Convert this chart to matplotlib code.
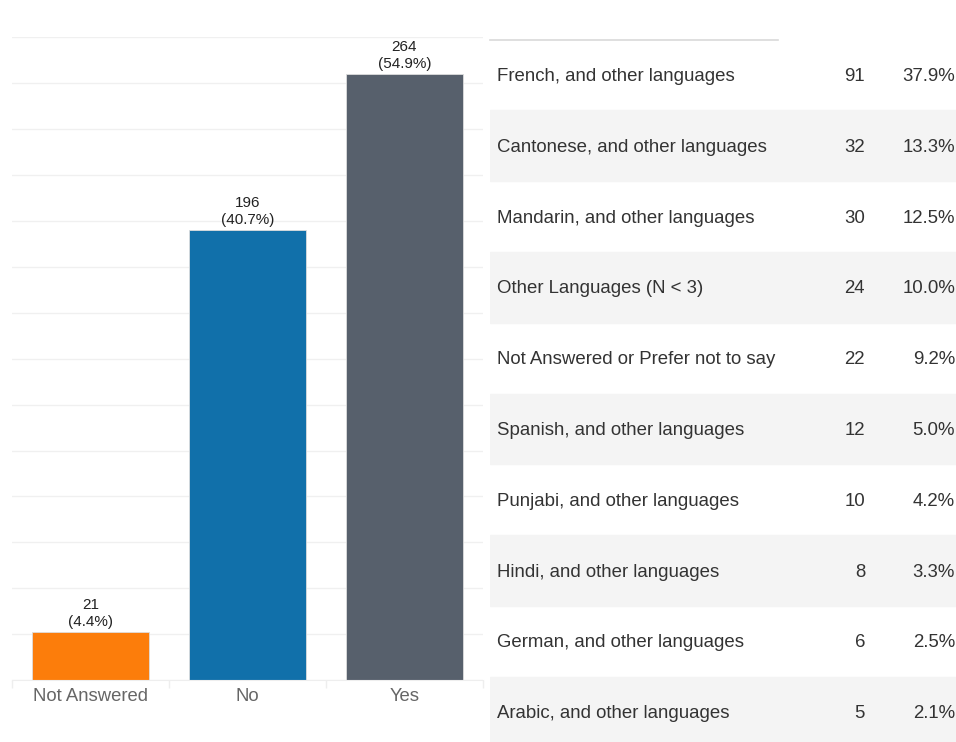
import matplotlib.pyplot as plt
from matplotlib.ticker import MultipleLocator

plt.rcParams['font.family'] = ['Liberation Sans', 'DejaVu Sans']

# bar chart data
answers = ["Not Answered", "No", "Yes"]
answer_counts = [21, 196, 264]
answer_pcts = [4.4, 40.7, 54.9]
bar_colors = ["#fc7d0b", "#1170aa", "#57606c"]

# language table data
languages = ["French, and other languages", "Cantonese, and other languages",
             "Mandarin, and other languages", "Other Languages (N < 3)",
             "Not Answered or Prefer not to say", "Spanish, and other languages",
             "Punjabi, and other languages", "Hindi, and other languages",
             "German, and other languages", "Arabic, and other languages"]
lang_counts = [91, 32, 30, 24, 22, 12, 10, 8, 6, 5]
lang_pcts = [37.9, 13.3, 12.5, 10.0, 9.2, 5.0, 4.2, 3.3, 2.5, 2.1]

W, H = 956, 742
fig = plt.figure(figsize=(W / 100, H / 100), dpi=100)

# --- bar chart ---
ax = fig.add_axes([12 / W, (H - 680) / H, 471 / W, (680 - 37.4) / H])
x = range(len(answers))
ax.bar(x, answer_counts, width=0.75, color=bar_colors, zorder=2,
       edgecolor="#dddddd", linewidth=0.6)
for i, (c, p) in enumerate(zip(answer_counts, answer_pcts)):
    ax.annotate("%d\n(%.1f%%)" % (c, p), xy=(i, c), xytext=(0, 2),
                textcoords="offset points", ha="center", va="bottom",
                fontsize=11, color="#222222", linespacing=1.3)
ax.set_xlim(-0.5, 2.5)
ax.set_ylim(0, 280)
ax.yaxis.set_major_locator(MultipleLocator(20))
ax.grid(axis="y", color="#f0f0f0", linewidth=1, zorder=0)
ax.set_yticklabels([])
ax.tick_params(axis="y", length=0)
ax.set_xticks(list(x))
ax.set_xticklabels(answers, fontsize=13.3, color="#666666")
ax.tick_params(axis="x", length=0, pad=6)
ax.set_xticks([-0.5, 0.5, 1.5, 2.5], minor=True)
ax.tick_params(axis="x", which="minor", length=6, color="#eeeeee", width=1)
for s in ["top", "right", "left"]:
    ax.spines[s].set_visible(False)
ax.spines["bottom"].set_color("#eeeeee")

# --- table ---
row_h = 70.8
top = 39.6
nrows_vis = (H - top) / row_h
tx = fig.add_axes([490 / W, 0, (W - 490) / W, (H - top) / H])
tx.set_xlim(0, W - 490)
tx.set_ylim(nrows_vis, 0)
tx.axis("off")
for i, (name, c, p) in enumerate(zip(languages, lang_counts, lang_pcts)):
    if i % 2 == 1:
        tx.axhspan(i, i + 1, color="#f4f4f4", zorder=0)
    y = i + 0.52
    tx.text(7, y, name, ha="left", va="center", fontsize=13.4, color="#333333")
    tx.text(375, y, str(c), ha="right", va="center", fontsize=13.4, color="#333333")
    tx.text(465, y, "%.1f%%" % p, ha="right", va="center", fontsize=13.4, color="#333333")
tx.plot([0, 288], [0, 0], color="#d9d9d9", linewidth=1.2, clip_on=False)

fig.savefig("out.png", dpi=100)
